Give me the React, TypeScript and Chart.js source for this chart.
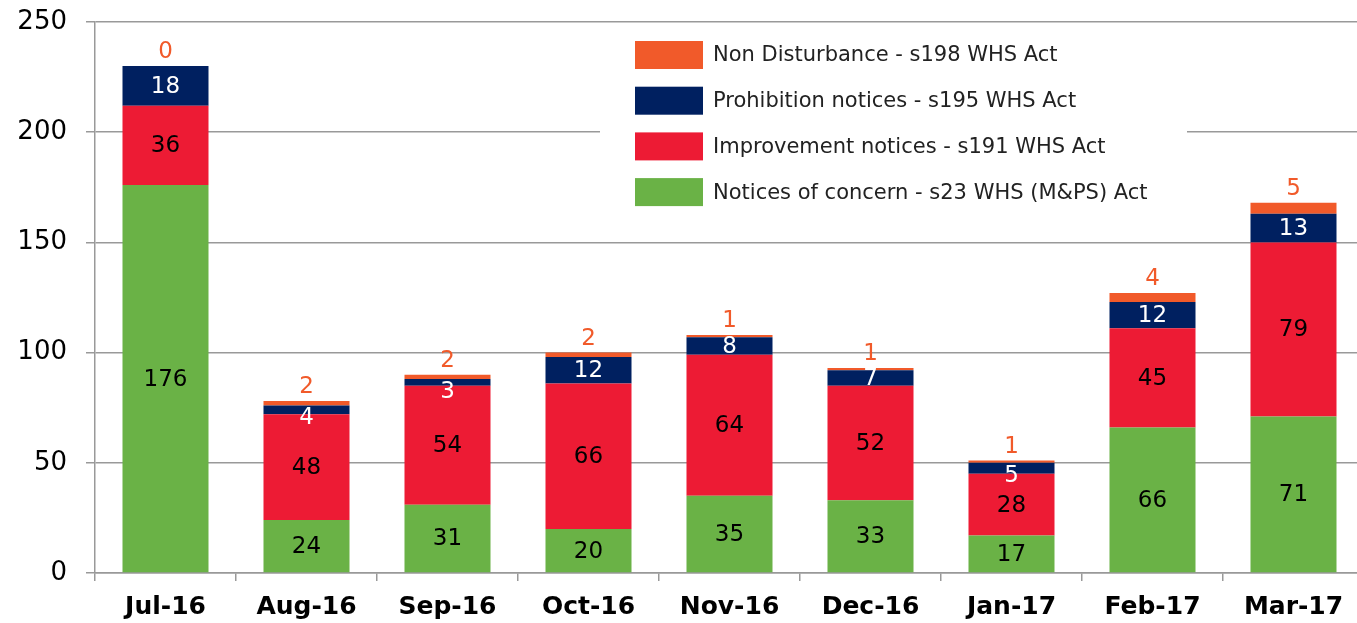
import { useEffect, useRef } from 'react';
import { Chart, registerables } from 'chart.js';

Chart.register(...registerables);

const categories = ['Jul-16', 'Aug-16', 'Sep-16', 'Oct-16', 'Nov-16', 'Dec-16', 'Jan-17', 'Feb-17', 'Mar-17'];
const concernValues = [176, 24, 31, 20, 35, 33, 17, 66, 71];
const improvementValues = [36, 48, 54, 66, 64, 52, 28, 45, 79];
const prohibitionValues = [18, 4, 3, 12, 8, 7, 5, 12, 13];
const nonDisturbanceValues = [0, 2, 2, 2, 1, 1, 1, 4, 5];
const seriesNames = [
  'Notices of concern - s23 WHS (M&PS) Act',
  'Improvement notices - s191 WHS Act',
  'Prohibition notices - s195 WHS Act',
  'Non Disturbance - s198 WHS Act',
];
const seriesColors = ['#6AB246', '#ED1B34', '#002060', '#F15A2A'];
const labelColors = ['#000000', '#000000', '#FFFFFF', '#F15A2A'];
const yMin = 0;
const yMax = 250;
const yStep = 50;

const FONT = '"DejaVu Sans", sans-serif';

const labelPlugin = {
  id: 'segmentLabels',
  afterDatasetsDraw(chart: any) {
    const ctx = chart.ctx;
    ctx.save();
    ctx.font = `23px ${FONT}`;
    ctx.textAlign = 'center';
    ctx.textBaseline = 'middle';
    chart.data.datasets.forEach((ds: any, di: number) => {
      const meta = chart.getDatasetMeta(di);
      meta.data.forEach((bar: any, i: number) => {
        const v = ds.data[i];
        const p = bar.getProps(['x', 'y', 'base'], true);
        ctx.fillStyle = labelColors[di];
        if (di === 3) {
          ctx.fillText(String(v), p.x, p.y - 14);
          return;
        }
        const h = p.base - p.y;
        let ly = (p.y + p.base) / 2;
        if (h < 12) ly = p.y + 12;
        ctx.fillText(String(v), p.x, ly + 1);
      });
    });
    ctx.restore();
  },
  afterDraw(chart: any) {
    const ctx = chart.ctx;
    ctx.save();
    ctx.fillStyle = '#FFFFFF';
    ctx.fillRect(600, 30, 587, 186);
    const order = [3, 2, 1, 0];
    ctx.font = `21px ${FONT}`;
    ctx.textAlign = 'left';
    ctx.textBaseline = 'middle';
    order.forEach((si, row) => {
      const top = 41 + row * 45.7;
      ctx.fillStyle = seriesColors[si];
      ctx.fillRect(635, top, 68, 28);
      ctx.fillStyle = '#222222';
      ctx.fillText(seriesNames[si], 713, top + 15);
    });
    ctx.restore();
  },
};

export default function App() {
  const ref = useRef<HTMLCanvasElement | null>(null);
  useEffect(() => {
    document.body.style.margin = '0';
    const canvas = ref.current;
    if (!canvas) return;
    const chart = new Chart(canvas, {
      type: 'bar',
      data: {
        labels: categories,
        datasets: [concernValues, improvementValues, prohibitionValues, nonDisturbanceValues].map((vals, i) => ({
          label: seriesNames[i],
          data: vals,
          backgroundColor: seriesColors[i],
          borderWidth: 0,
          barPercentage: 0.61,
          categoryPercentage: 1,
        })),
      },
      options: {
        responsive: false,
        animation: false,
        layout: { padding: { top: 22, right: 0, left: 0, bottom: 0 } },
        plugins: { legend: { display: false }, tooltip: { enabled: false } },
        scales: {
          x: {
            stacked: true,
            grid: {
              display: true,
              drawOnChartArea: false,
              drawTicks: true,
              tickLength: 8,
              offset: true,
              color: '#999999',
              lineWidth: 1.5,
            },
            border: { color: '#999999', width: 1.5 },
            ticks: {
              color: '#000000',
              padding: 11,
              font: { family: FONT, size: 25, weight: 'bold' },
            },
            afterFit: (s: any) => {
              s.height = 50;
              s.paddingLeft = 0;
              s.paddingRight = 0;
            },
          },
          y: {
            stacked: true,
            min: yMin,
            max: yMax,
            ticks: {
              stepSize: yStep,
              color: '#000000',
              padding: 19,
              font: { family: FONT, size: 26 },
            },
            grid: { color: '#999999', lineWidth: 1.5, tickLength: 9 },
            border: { color: '#999999', width: 1.5 },
            afterFit: (s: any) => {
              s.width = 95;
              s.paddingTop = 0;
              s.paddingBottom = 0;
            },
          },
        },
      },
      plugins: [labelPlugin],
    });
    return () => chart.destroy();
  }, []);
  return (
    <div style={{ width: 1357, height: 623, overflow: 'hidden', background: '#fff' }}>
      <canvas ref={ref} width={1364} height={623} style={{ display: 'block' }} />
    </div>
  );
}
